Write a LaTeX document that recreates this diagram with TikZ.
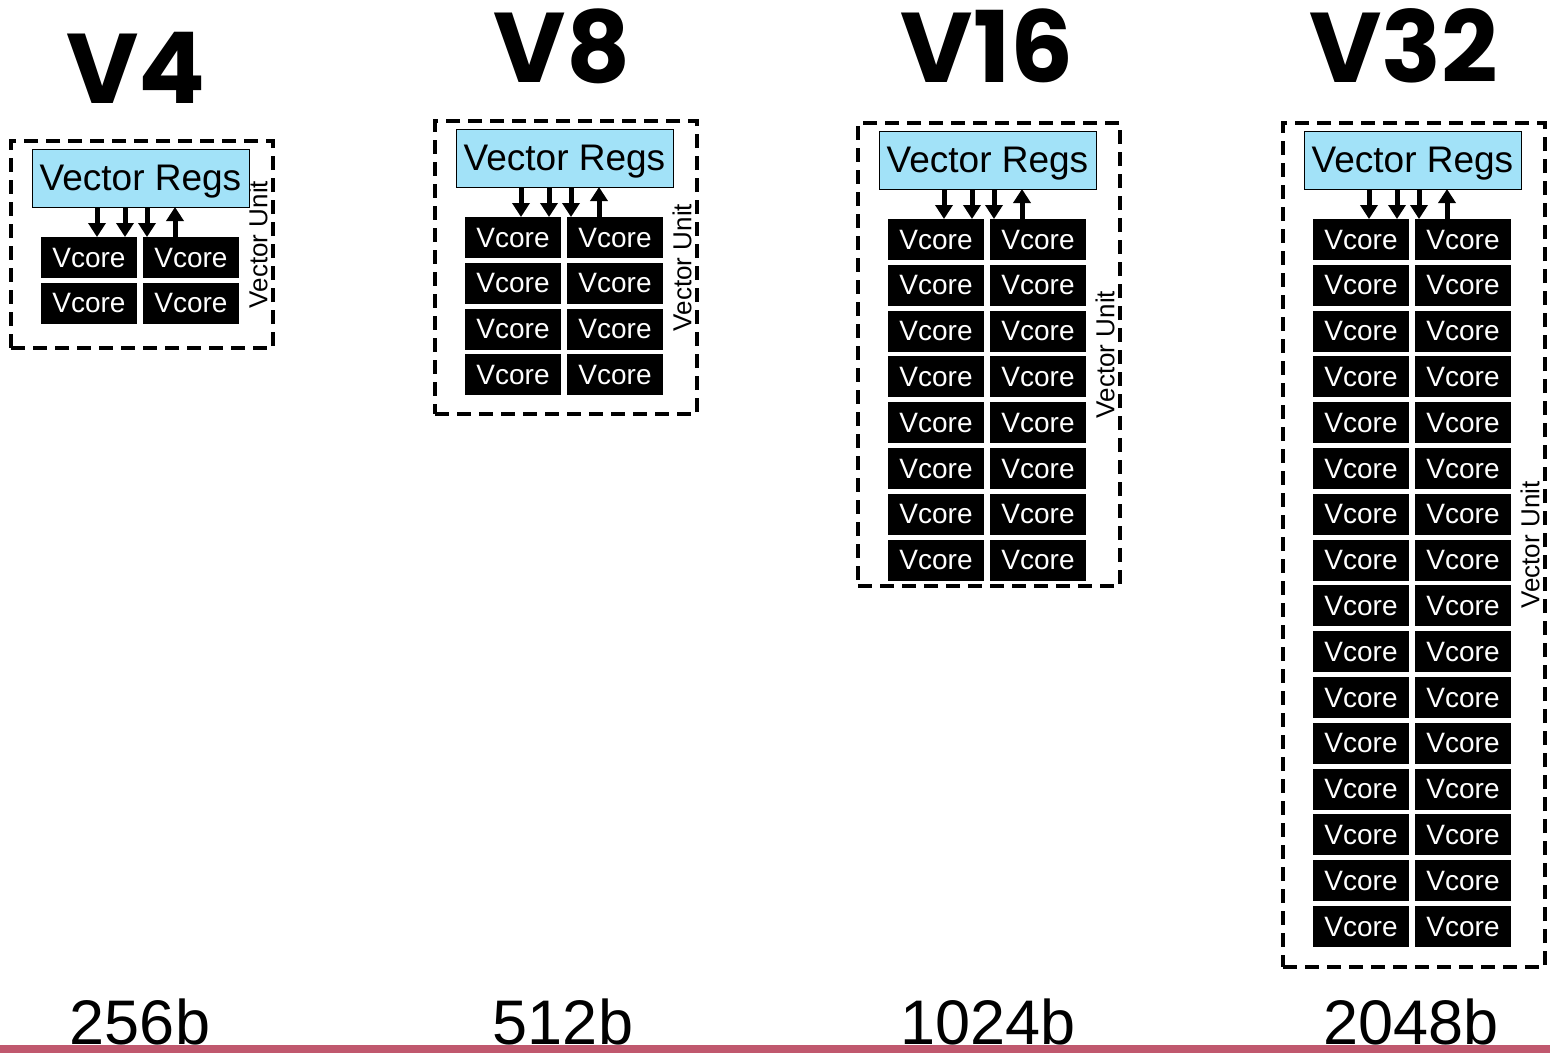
\documentclass[tikz,border=0pt]{standalone}
\usepackage{fontspec}
\setmainfont{Liberation Sans}
\newfontfamily\titlefont{Poppins}
\usetikzlibrary{arrows.meta, positioning, calc}

\definecolor{regblue}{RGB}{162,226,248}
\definecolor{rulered}{RGB}{192,88,110}

\tikzset{
  unitbox/.style={draw, line width=4.5pt, dash pattern=on 14pt off 8pt, inner sep=0pt, outer sep=0pt},
  regsbox/.style={draw, fill=regblue, line width=1pt, minimum width=217pt, minimum height=58pt, inner sep=0pt, outer sep=0pt, text depth=0pt, font=\fontsize{37}{40}\selectfont},
  vcorebox/.style={fill=black, text=white, minimum width=96pt, minimum height=41pt, inner sep=0pt, outer sep=0pt, font=\fontsize{28}{30}\selectfont},
  busarrow/.style={line width=5pt, -{Triangle[width=17pt,length=14pt]}},
  unitlabel/.style={rotate=90, font=\fontsize{26}{28}\selectfont, inner sep=0pt},
  titletext/.style={font=\titlefont\bfseries\fontsize{99}{99}\selectfont, anchor=base, inner sep=0pt},
  bitstext/.style={font=\fontsize{63}{63}\selectfont, anchor=base, inner sep=0pt}
}

\begin{document}
\begin{tikzpicture}[x=1pt, y=-1pt]
\useasboundingbox (0,0) rectangle (1550,1053);

% one vector unit per column
\foreach \unit/\bx/\by/\bh/\rows/\title/\tx/\ty/\bits/\bitx in {
    four/11/141/207/2/V4/136/103/256b/140,
    eight/435/121/293/4/V8/562/82/512b/563,
    sixteen/858/123/463/8/V16/987/82/1024b/988,
    thirtytwo/1283/123/844/16/V32/1404/82/2048b/1411} {

    \node[titletext] (\unit-title) at (\tx,\ty) {\title};

    \node[unitbox, minimum width=262pt, minimum height=\bh pt, anchor=north west] (\unit-box) at (\bx,\by) {};
    \node[unitlabel] (\unit-label) at ([xshift=-15pt]\unit-box.east) {Vector Unit};

    \node[regsbox, anchor=north west] (\unit-regs) at ({\bx+21},{\by+8}) {Vector Regs};

    \foreach \r in {1,...,\rows} {
        \node[vcorebox, anchor=north west] (\unit-l\r) at ({\bx+30},{\by+96+(\r-1)*45.8}) {Vcore};
        \node[vcorebox, right=6pt of \unit-l\r] (\unit-r\r) {Vcore};
    }

    % three buses down, one back up
    \foreach \ax in {65,93,115} {
        \draw[busarrow] ([xshift=\ax pt]\unit-regs.south west) -- ([xshift=\ax pt]\unit-regs.south west |- \unit-l1.north);
    }
    \draw[busarrow] ([xshift=143pt]\unit-regs.south west |- \unit-l1.north) -- ([xshift=143pt]\unit-regs.south west);

    \node[bitstext] (\unit-bits) at (\bitx,1044) {\bits};
}

\fill[rulered] (0,1045) rectangle (1550,1053);
\end{tikzpicture}
\end{document}
